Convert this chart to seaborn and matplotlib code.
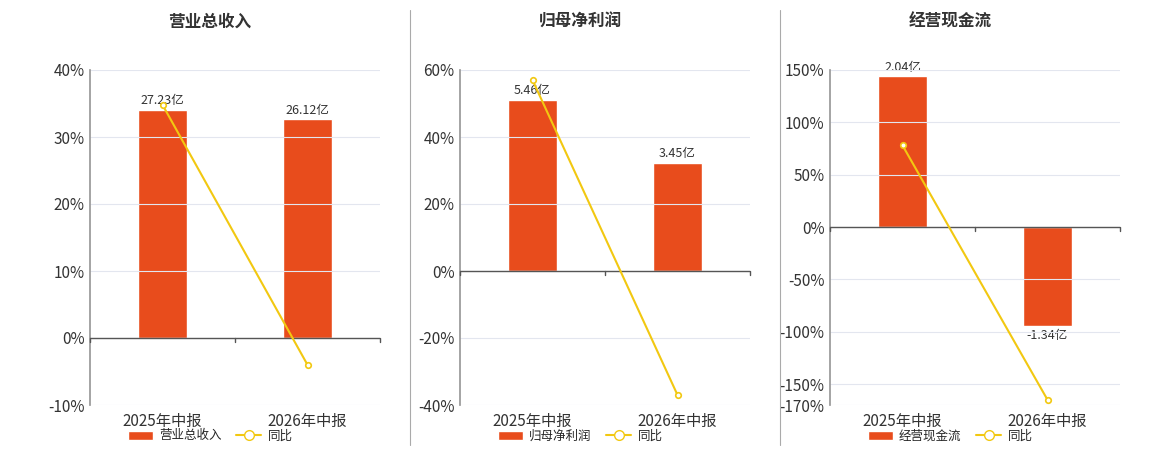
import matplotlib
matplotlib.use('Agg')
import matplotlib.pyplot as plt
import seaborn as sns
import pandas as pd
from matplotlib.lines import Line2D
from matplotlib.patches import FancyBboxPatch, Patch

# data
periods = ["2025年中报", "2026年中报"]
titles = ["营业总收入", "归母净利润", "经营现金流"]
bar_vals = [[27.23, 26.12], [5.46, 3.45], [2.04, -1.34]]          # 亿
yoy_vals = [[34.8, -4.0], [57.0, -37.0], [78.0, -165.0]]           # %
bar_pct_equiv = [34.0, 51.0, 144.0]  # where the first bar top sits on the % axis
y_ranges = [(-10, 40), (-40, 60), (-170, 150)]
y_ticks = [[-10, 0, 10, 20, 30, 40], [-40, -20, 0, 20, 40, 60],
           [-170, -150, -100, -50, 0, 50, 100, 150]]

BAR = "#E84C1C"
LINE = "#F2C811"

sns.set_theme(style="white")
plt.rcParams['font.family'] = ['Noto Sans CJK SC', 'DejaVu Sans']

fig = plt.figure(figsize=(11.6, 4.5), dpi=100)
W, H = 1160, 450
lefts = [90, 460, 830]
aw = 290

for i in range(3):
    x0 = lefts[i]
    ax = fig.add_axes([x0 / W, 1 - 405 / H, aw / W, 335 / H])
    lo, hi = y_ranges[i]
    ax.set_ylim(lo, hi)
    ax.set_xlim(-0.5, 1.5)
    ax.set_yticks(y_ticks[i])
    ax.set_yticklabels([f"{t}%" for t in y_ticks[i]], fontsize=11, color="#333333")
    for t in y_ticks[i]:
        ax.axhline(t, color="#e3e6ef", lw=0.8, zorder=0)
    for s in ["top", "right", "bottom"]:
        ax.spines[s].set_visible(False)
    ax.spines["left"].set_color("#999999")
    ax.tick_params(axis="y", length=0, pad=4)
    ax.set_xticks([0, 1])
    ax.set_xticklabels(periods, fontsize=11, color="#333333")
    ax.tick_params(axis="x", length=0, pad=6)
    # bars on twin axis scaled so that it lines up with the % axis
    scale = bar_vals[i][0] / bar_pct_equiv[i]
    bx = ax.twinx()
    bx.set_ylim(lo * scale, hi * scale)
    bx.axis("off")
    df = pd.DataFrame({"period": periods, "v": bar_vals[i]})
    sns.barplot(data=df, x="period", y="v", ax=bx, color=BAR, width=0.34,
                saturation=1, zorder=2)
    bx.set_xlim(-0.5, 1.5)
    for j, v in enumerate(bar_vals[i]):
        off = 2 if v >= 0 else -2
        bx.annotate(f"{v:.2f}亿", (j, v), xytext=(0, off), textcoords="offset points",
                    ha="center", va="bottom" if v >= 0 else "top", fontsize=9, color="#333333")
    # zero line with ticks
    ax.axhline(0, color="#555555", lw=1, zorder=3)
    for xt in [-0.5, 0.5, 1.5]:
        ax.plot([xt, xt], [0, -(hi - lo) * 0.012], color="#555555", lw=1, zorder=3, clip_on=False)
    ax.set_zorder(bx.get_zorder() + 1)
    ax.patch.set_visible(False)
    ax.plot([0, 1], yoy_vals[i], color=LINE, lw=1.5, marker="o", ms=4,
            mfc="white", mec=LINE, mew=1.2, zorder=5)
    fig.text((x0 + aw / 2 - 25) / W, 1 - 22 / H, titles[i], ha="center", va="center",
             fontsize=12, fontweight="bold", color="#333333")
    handles = [Patch(facecolor=BAR, label=titles[i]),
               Line2D([0], [0], color=LINE, lw=1.5, marker="o", ms=7, mfc="white",
                      mec=LINE, label="同比")]
    fig.legend(handles=handles, loc="center", bbox_to_anchor=((x0 + 120) / W, 1 - 436 / H),
               ncol=2, frameon=False, fontsize=9, handlelength=2.0, columnspacing=1.2,
               handletextpad=0.5)

for xs in [410, 780]:
    fig.add_artist(Line2D([xs / W, xs / W], [1 - 445 / H, 1 - 10 / H], color="#aaaaaa", lw=0.8))

fig.savefig("out.png", dpi=100)
